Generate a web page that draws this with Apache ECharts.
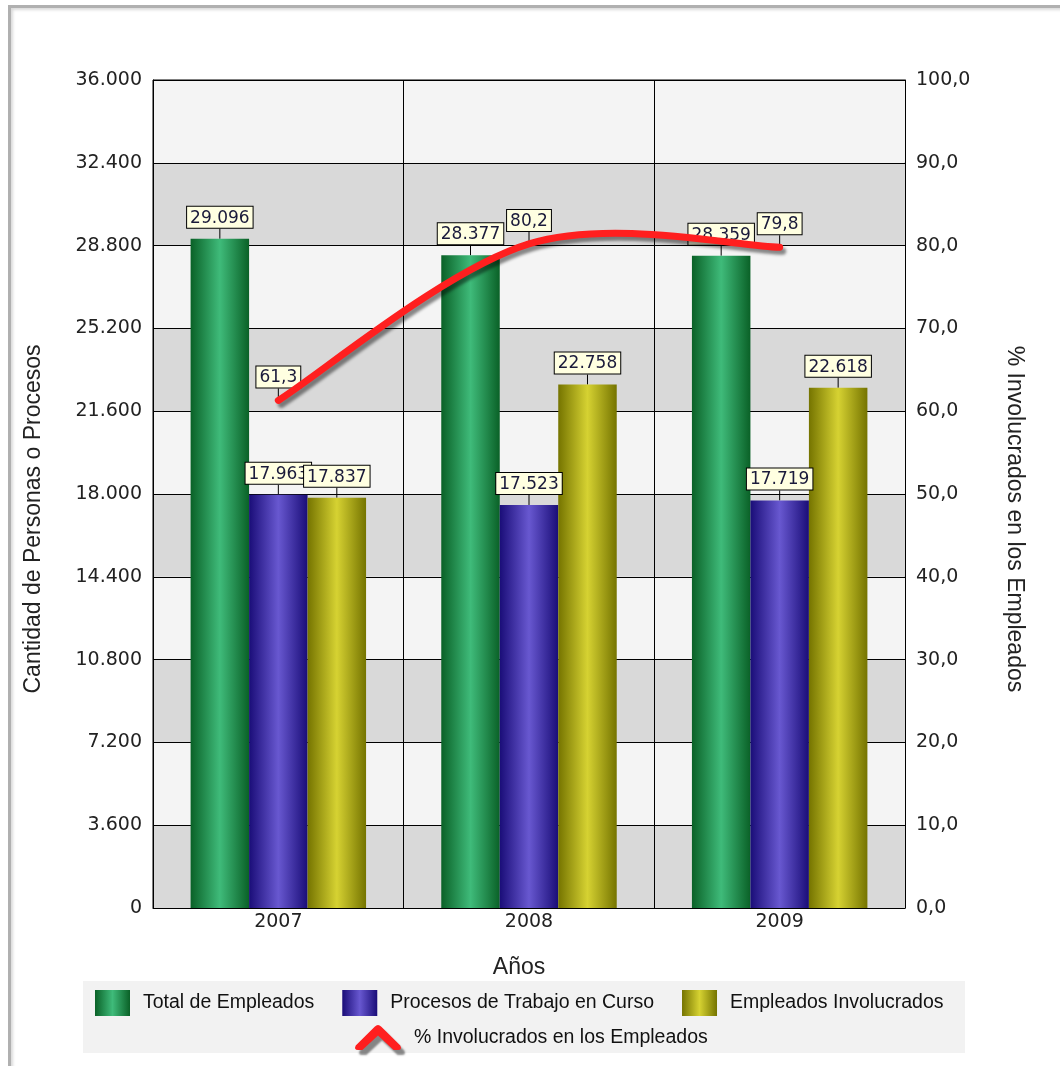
<!DOCTYPE html>
<html>
<head>
<meta charset="utf-8">
<script src="https://cdn.jsdelivr.net/npm/echarts@6/dist/echarts.min.js"></script>
<style>
  html, body { margin: 0; padding: 0; background: #fff; overflow: hidden; }
  #frame {
    position: absolute; left: 8px; top: 5px; width: 1100px; height: 1100px;
    border-left: 3px solid #b0b0b0; border-top: 3px solid #b0b0b0;
    box-shadow: inset 2px 2px 3px rgba(0,0,0,0.15);
  }
  #chart { position: absolute; left: 0; top: 0; width: 1060px; height: 1066px; }
</style>
</head>
<body>
<div id="frame"></div>
<div id="chart"></div>
<script>
// datos
var years = ['2007', '2008', '2009'];
var totalEmpleados = [29096, 28377, 28359];
var procesosCurso = [17963, 17523, 17719];
var empleadosInvol = [17837, 22758, 22618];
var pctInvolucrados = [61.3, 80.2, 79.8];

var chart = echarts.init(document.getElementById('chart'));

function miles(v) {
    return String(Math.round(v)).replace(/\B(?=(\d{3})+(?!\d))/g, '.');
}
function coma(v) {
    return v.toFixed(1).replace('.', ',');
}
function grad(edge, mid) {
    return new echarts.graphic.LinearGradient(0, 0, 1, 0, [
        {offset: 0, color: edge},
        {offset: 0.5, color: mid},
        {offset: 1, color: edge}
    ]);
}

var fontName = 'Liberation Sans';
var numFont = 'DejaVu Sans';
var rojo = '#ff1f1f';
var boxLabel = {
    show: true,
    position: 'top',
    distance: 0,
    color: '#1a1a3a',
    fontFamily: numFont,
    fontSize: 17,
    lineHeight: 19,
    backgroundColor: '#ffffe1',
    borderColor: '#000',
    borderWidth: 1,
    padding: [2, 3, 0, 3]
};
var tickLine = {show: true, length: 0, length2: 0, lineStyle: {color: '#000', width: 1}};

function barSerie(name, data, edge, mid) {
    return {
        name: name,
        type: 'bar',
        data: data,
        barGap: '0%',
        barCategoryGap: '30%',
        itemStyle: {color: grad(edge, mid)},
        label: Object.assign({}, boxLabel, {formatter: function (p) { return miles(p.value); }}),
        labelLayout: {dy: -11},
        labelLine: tickLine
    };
}

// curva tipo Catmull-Rom, como la del grafico original
function renderCurva(params, api) {
    if (params.dataIndexInside !== 0) return null;
    var n = pctInvolucrados.length;
    var p = [];
    for (var i = 0; i < n; i++) {
        p.push(api.coord([api.value(0, i), api.value(1, i)]));
    }
    var d = 'M' + p[0][0] + ',' + p[0][1];
    for (var i = 0; i < n - 1; i++) {
        var p0 = p[Math.max(i - 1, 0)], p1 = p[i], p2 = p[i + 1], p3 = p[Math.min(i + 2, n - 1)];
        var c1x = p1[0] + (p2[0] - p0[0]) / 6, c1y = p1[1] + (p2[1] - p0[1]) / 6;
        var c2x = p2[0] - (p3[0] - p1[0]) / 6, c2y = p2[1] - (p3[1] - p1[1]) / 6;
        d += ' C' + c1x + ',' + c1y + ' ' + c2x + ',' + c2y + ' ' + p2[0] + ',' + p2[1];
    }
    return {
        type: 'path',
        shape: {pathData: d},
        style: {
            fill: 'none', stroke: rojo, lineWidth: 7, lineCap: 'round', lineJoin: 'round',
            shadowColor: 'rgba(0,0,0,0.45)', shadowBlur: 3, shadowOffsetX: 3, shadowOffsetY: 4
        }
    };
}

var legendText = {fontSize: 19.5, color: '#111', fontFamily: fontName, padding: [0, 0, 0, 8]};

var option = {
    animation: false,
    textStyle: {fontFamily: fontName},
    grid: {
        left: 153, right: 155, top: 80, bottom: 158,
        show: true, borderColor: '#000', borderWidth: 1, backgroundColor: 'transparent'
    },
    graphic: [{
        type: 'rect',
        left: 83, top: 981, z: -1,
        shape: {width: 882, height: 72},
        style: {fill: '#f2f2f2'}
    }],
    legend: [{
        data: ['Total de Empleados', 'Procesos de Trabajo en Curso', 'Empleados Involucrados'],
        left: 90, top: 985,
        icon: 'rect',
        itemWidth: 35, itemHeight: 26, itemGap: 28,
        textStyle: legendText
    }, {
        data: [{name: '% Involucrados en los Empleados',
            icon: 'path://M2,21 L19,4 Q22,1 25,4 L42,21 Q44,25 40,25 L36,25 L22,12 L8,25 L4,25 Q0,25 2,21 Z',
            itemStyle: {color: rojo, shadowColor: 'rgba(0,0,0,0.45)', shadowBlur: 2, shadowOffsetX: 4, shadowOffsetY: 5}}],
        left: 350, top: 1020,
        itemWidth: 46, itemHeight: 31,
        textStyle: legendText
    }],
    xAxis: {
        type: 'category',
        data: years,
        name: 'Años',
        nameLocation: 'middle',
        nameGap: 48,
        nameTextStyle: {fontSize: 23, color: '#222', padding: [0, 20, 0, 0]},
        axisLine: {lineStyle: {color: '#000'}},
        axisTick: {show: false},
        axisLabel: {fontSize: 19, color: '#222', margin: 5, fontFamily: numFont},
        splitLine: {show: true, interval: 0, lineStyle: {color: '#000', width: 1}}
    },
    yAxis: [{
        type: 'value',
        min: 0, max: 36000, interval: 3600,
        name: 'Cantidad de Personas o Procesos',
        nameLocation: 'middle',
        nameGap: 108,
        nameTextStyle: {fontSize: 23, color: '#222', padding: [0, 50, 0, 0]},
        axisLine: {show: true, lineStyle: {color: '#000'}},
        axisTick: {show: false},
        axisLabel: {fontSize: 19, color: '#222', margin: 11, formatter: miles, fontFamily: numFont},
        splitLine: {show: true, lineStyle: {color: '#000', width: 1}},
        splitArea: {show: true, areaStyle: {color: ['#d9d9d9', '#f4f4f4']}}
    }, {
        type: 'value',
        min: 0, max: 100, interval: 10,
        name: '% Involucrados en los Empleados',
        nameLocation: 'middle',
        nameGap: 98,
        nameRotate: -90,
        nameTextStyle: {fontSize: 23, color: '#222', padding: [0, 0, 0, 50]},
        axisLine: {show: true, lineStyle: {color: '#000'}},
        axisTick: {show: false},
        axisLabel: {fontSize: 19, color: '#222', margin: 11, formatter: coma, fontFamily: numFont},
        splitLine: {show: false}
    }],
    series: [
        barSerie('Total de Empleados', totalEmpleados, '#0a6127', '#3fbb7a'),
        barSerie('Procesos de Trabajo en Curso', procesosCurso, '#1a0d78', '#6858d0'),
        barSerie('Empleados Involucrados', empleadosInvol, '#757400', '#d6d232'),
        {
            name: '% Involucrados en los Empleados',
            type: 'line',
            yAxisIndex: 1,
            data: pctInvolucrados,
            symbol: 'circle',
            symbolSize: 2,
            showSymbol: true,
            z: 4,
            color: rojo,
            itemStyle: {color: rojo},
            lineStyle: {color: rojo, width: 0, opacity: 0},
            label: Object.assign({}, boxLabel, {formatter: function (p) { return coma(p.value); }}),
            labelLayout: {dy: -12},
            labelLine: tickLine
        },
        {
            name: 'curva',
            type: 'custom',
            yAxisIndex: 1,
            z: 5,
            data: years.map(function (y, i) { return [i, pctInvolucrados[i]]; }),
            encode: {x: 0, y: 1},
            renderItem: renderCurva,
            silent: true
        }
    ]
};

chart.setOption(option);
</script>
</body>
</html>
